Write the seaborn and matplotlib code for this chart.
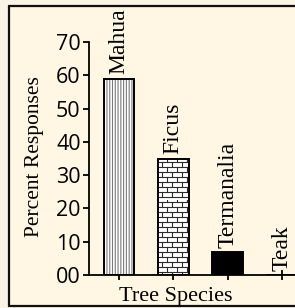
import warnings
warnings.filterwarnings("ignore")
import numpy as np
import matplotlib
matplotlib.use("Agg")
import matplotlib.pyplot as plt
import matplotlib.hatch as mhatch
from matplotlib.path import Path
from matplotlib.patches import Rectangle
from matplotlib.lines import Line2D
import seaborn as sns

# ---- data ----
species = ["Mahua", "Ficus", "Termanalia", "Teak"]
percent = [59, 35, 7, 0]
ytick_vals = [0, 10, 20, 30, 40, 50, 60, 70]
ytick_labels = ["00", "10", "20", "30", "40", "50", "60", "70"]
xlabel = "Tree Species"
ylabel = "Percent Responses"


# ---- custom brick hatch ('b') ----
class BrickHatch(mhatch.HatchPatternBase):
    def __init__(self, hatch, density):
        k = hatch.count('b')
        self.rows = 20 * k
        self.cols = 10 * k
        if k:
            self.num_vertices = self.rows * 2 + self.rows * self.cols * 2
        else:
            self.num_vertices = 0

    def set_vertices_and_codes(self, vertices, codes):
        r, c = self.rows, self.cols
        idx = 0
        for i in range(r):
            y = (i + 0.5) / r
            vertices[idx] = (0.0, y); codes[idx] = Path.MOVETO; idx += 1
            vertices[idx] = (1.0, y); codes[idx] = Path.LINETO; idx += 1
        for i in range(r):
            y0 = (i + 0.5) / r
            y1 = (i + 1.5) / r
            off = 0.25 + 0.5 * (i % 2)
            for j in range(c):
                x = (j + off) / c
                vertices[idx] = (x, y0); codes[idx] = Path.MOVETO; idx += 1
                vertices[idx] = (x, y1); codes[idx] = Path.LINETO; idx += 1


mhatch._hatch_types.append(BrickHatch)

sns.set_theme(style="white")
plt.rcParams["hatch.linewidth"] = 0.8

W, H = 295, 308
fig = plt.figure(figsize=(W / 100, H / 100), dpi=100)
fig.patch.set_facecolor("#FAF4E6")

# inner framed panel (background + left/top/bottom border lines)
L, T, B = 8.5 / W, (H - 5.5) / H, (H - 306) / H
fig.add_artist(Rectangle((L, B), 1.2, T - B, transform=fig.transFigure,
                         facecolor="#FFF7E4", edgecolor="none", zorder=-5))
for xs, ys in [([L, L], [B, T]), ([L, 1.2], [T, T]), ([L, 1.2], [B, B])]:
    fig.add_artist(Line2D(xs, ys, transform=fig.transFigure, color="#111111",
                          linewidth=1.6, zorder=-4))

ax_left, ax_bottom = 89 / W, (H - 275) / H
ax_w, ax_h = 211 / W, 233 / H
ax = fig.add_axes([ax_left, ax_bottom, ax_w, ax_h])
ax.set_zorder(2)
ax.set_facecolor("none")

bar_w = 0.57
# layer 1: fills + hatches
sns.barplot(x=species, y=percent, ax=ax, width=bar_w, color="white",
            linewidth=0, saturation=1)
fills = ["white", "white", "black", "white"]
hatches = ["||||||", "b", None, None]
hcolors = ["#7a7a7a", "#2a2a2a", "black", "white"]
for p, fc, h, hc in zip(ax.patches, fills, hatches, hcolors):
    p.set_facecolor(fc)
    p.set_edgecolor(hc)
    p.set_linewidth(0)
    if h:
        p.set_hatch(h)
n0 = len(ax.patches)
# layer 2: outlines
sns.barplot(x=species, y=percent, ax=ax, width=bar_w, color="white",
            linewidth=1.5, saturation=1)
for p in ax.patches[n0:]:
    p.set_facecolor("none")
    p.set_edgecolor("black")
    p.set_linewidth(1.4)

x0 = -30 / 54.3
ax.set_xlim(x0, x0 + 211 / 54.3)
ax.set_ylim(0, 70)

# bar labels
for i, (s, v) in enumerate(zip(species, percent)):
    ax.annotate(s, xy=(i, v), xytext=(0, 3), textcoords="offset points",
                rotation=90, ha="center", va="bottom",
                fontfamily="Liberation Serif", fontsize=17, color="black",
                annotation_clip=False)

ax.set_yticks(ytick_vals)
ax.set_yticklabels(ytick_labels, fontfamily="Open Sans", fontsize=15.5,
                   fontweight="medium")
ax.set_xticks(range(len(species)))
ax.set_xticklabels([])
ax.tick_params(axis="y", direction="out", length=4, width=1.3, pad=2,
               colors="black", left=True)
ax.tick_params(axis="x", direction="inout", length=7, width=1.3,
               colors="black", bottom=True)

for s in ["top", "right"]:
    ax.spines[s].set_visible(False)
for s in ["left", "bottom"]:
    ax.spines[s].set_color("black")
    ax.spines[s].set_linewidth(1.3)
ax.spines["left"].set_bounds(0, 70)

ax.set_xlabel(xlabel, fontfamily="Liberation Serif", fontsize=16, color="black")
ax.set_ylabel(ylabel, fontfamily="Liberation Serif", fontsize=15.5, color="black")
ax.xaxis.set_label_coords((176 - 89) / 211, -0.05)
ax.yaxis.set_label_coords((44 - 89) / 211, 0.51)
ax.grid(False)

fig.savefig("out.png", dpi=100, facecolor=fig.get_facecolor())
